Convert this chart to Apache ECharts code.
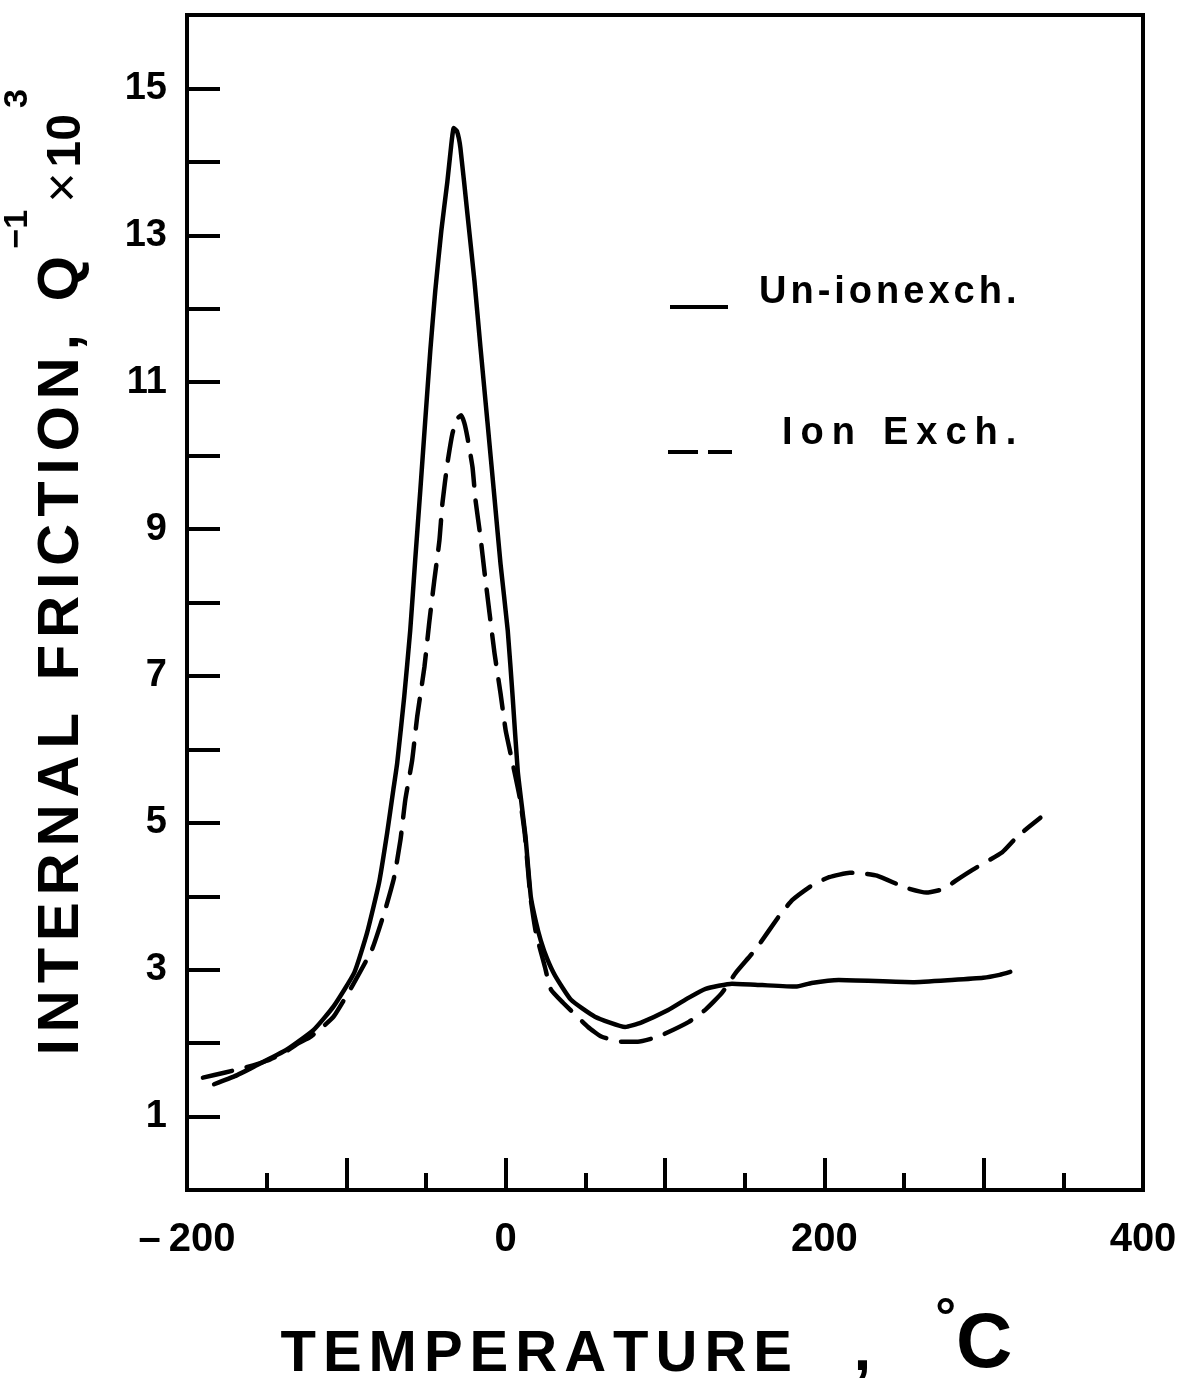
<!DOCTYPE html>
<html>
<head>
<meta charset="utf-8">
<script src="https://cdn.jsdelivr.net/npm/echarts@6/dist/echarts.min.js"></script>
<style>
  html, body { margin: 0; padding: 0; background: #fff; }
  #chart { width: 1186px; height: 1378px; }
</style>
</head>
<body>
<div id="chart"></div>
<script>
// ---- Data ----
const seriesNames = ['Un-ionexch.', 'Ion Exch.'];

const solidT = [-183, -170, -158, -137.5, -120.5, -108, -95, -87, -79.5, -74.4, -70.5, -68.1, -63.7, -59.9, -56.8, -53.6, -50.5, -47.3, -44.2, -40.4, -36.6, -34.2, -32.6, -30.6, -28.4, -24, -19.6, -15.8, -11.4, -7, -3.2, 1.3, 4.4, 7.6, 10.7, 12.5, 15.8, 19, 22, 26, 31, 41, 56, 75, 85, 102, 115, 125.5, 142, 161, 182, 192, 209, 255.5, 280, 299.7, 310, 316.7];
const solidQ = [1.44, 1.55, 1.68, 1.91, 2.18, 2.5, 2.96, 3.5, 4.18, 4.86, 5.45, 5.81, 6.71, 7.62, 8.57, 9.52, 10.47, 11.43, 12.24, 13.06, 13.73, 14.22, 14.46, 14.42, 14.19, 13.29, 12.38, 11.47, 10.45, 9.42, 8.52, 7.62, 6.71, 5.7, 5.13, 4.8, 3.99, 3.65, 3.4, 3.15, 2.92, 2.59, 2.36, 2.22, 2.28, 2.45, 2.62, 2.74, 2.81, 2.79, 2.77, 2.82, 2.86, 2.83, 2.86, 2.89, 2.93, 2.97];

const ionT = [-190, -176, -163, -150, -139, -130, -123, -117, -108, -96.5, -84, -75.7, -70, -66, -63, -58.7, -55.5, -51, -48, -44.8, -41.6, -39.7, -36.6, -33.4, -30.5, -28, -26, -24, -20.8, -18.9, -15.8, -13.2, -10.1, -7, -3.2, 0, 4.4, 8.8, 12, 15.5, 19, 22, 24.6, 28.4, 36, 51.7, 60, 72.6, 83, 96, 115, 125.6, 135.6, 144.5, 157, 171.6, 180, 192.4, 203, 216, 224, 233, 252, 264, 275, 283, 293, 311.7, 321, 335.6];
const ionQ = [1.53, 1.6, 1.67, 1.76, 1.87, 2.0, 2.08, 2.18, 2.36, 2.77, 3.27, 3.81, 4.26, 4.77, 5.31, 5.85, 6.45, 7.12, 7.72, 8.3, 8.84, 9.35, 9.89, 10.3, 10.5, 10.55, 10.45, 10.25, 9.84, 9.39, 8.89, 8.4, 7.85, 7.31, 6.76, 6.26, 5.81, 5.35, 4.85, 4.0, 3.5, 3.25, 3.04, 2.73, 2.55, 2.22, 2.09, 2.02, 2.02, 2.09, 2.29, 2.46, 2.68, 2.96, 3.28, 3.73, 3.95, 4.15, 4.26, 4.32, 4.31, 4.28, 4.11, 4.05, 4.1, 4.22, 4.36, 4.6, 4.81, 5.07];

const xLabelValues = [-200, 0, 200, 400];
const yLabelValues = [1, 3, 5, 7, 9, 11, 13, 15];

// ---- Styling helpers ----
const FONT = "'Liberation Sans', Arial, sans-serif";
function spaced(str, style) {
  return str.split('').map(ch => ch === ' ' ? '{sp| }' : '{' + style + '|' + ch + '}').join('');
}

const chart = echarts.init(document.getElementById('chart'), null, { renderer: 'canvas' });

const yTitle = spaced('INTERNAL FRICTION,', 'c') + '{sp| }{c|Q}{sup|−1}{x|×}{ten|10}{sup|3}';
const xTitle = spaced('TEMPERATURE', 'c') + '{gap| }{cm|,}{gap2| }{deg|°}{big|C}';

const capStyle = { fontSize: 58, fontWeight: 'bold', fontFamily: FONT, fill: '#000', padding: [0, 3.5, 0, 3.5], lineHeight: 90, verticalAlign: 'bottom' };

const option = {
  animation: false,
  backgroundColor: '#fff',
  grid: { left: 187, right: 43, top: 15, bottom: 188, show: true, borderColor: '#000', borderWidth: 4, backgroundColor: 'transparent' },
  xAxis: {
    type: 'value', min: -200, max: 400, interval: 100,
    axisLine: { show: true, onZero: false, lineStyle: { color: '#000', width: 4 } },
    axisTick: { show: true, inside: true, length: 32, lineStyle: { color: '#000', width: 4 } },
    minorTick: { show: true, splitNumber: 2, length: 17, lineStyle: { color: '#000', width: 4 } },
    splitLine: { show: false }, minorSplitLine: { show: false },
    axisLabel: {
      margin: 30, fontSize: 40, fontWeight: 'bold', fontFamily: FONT, color: '#000',
      showMinLabel: true, showMaxLabel: true,
      formatter: v => xLabelValues.includes(v) ? (v < 0 ? '–\u2009' + (-v) : String(v)) : ''
    }
  },
  yAxis: {
    type: 'value', min: 0, max: 16, interval: 1,
    axisLine: { show: true, onZero: false, lineStyle: { color: '#000', width: 4 } },
    axisTick: { show: true, inside: true, length: 33, lineStyle: { color: '#000', width: 4 } },
    splitLine: { show: false },
    axisLabel: {
      margin: 20, fontSize: 38, fontWeight: 'bold', fontFamily: FONT, color: '#000',
      formatter: v => yLabelValues.includes(v) ? String(v) : ''
    }
  },
  series: [
    {
      name: seriesNames[0], type: 'line', symbol: 'none', smooth: 0.15,
      data: solidT.map((t, i) => [t, solidQ[i]]),
      lineStyle: { color: '#000', width: 4.5, cap: 'round', join: 'round' }
    },
    {
      name: seriesNames[1], type: 'line', symbol: 'none', smooth: 0.15,
      data: ionT.map((t, i) => [t, ionQ[i]]),
      lineStyle: { color: '#000', width: 4.5, type: [30, 15], cap: 'round', join: 'round' }
    }
  ],
  graphic: [
    {
      type: 'text', x: 46, y: 572, rotation: Math.PI / 2,
      style: {
        text: yTitle, align: 'center', verticalAlign: 'middle', fill: '#000',
        rich: {
          c: capStyle,
          sp: { fontSize: 58, fontFamily: FONT, lineHeight: 90, verticalAlign: 'bottom', width: 26 },
          sup: { fontSize: 34, fontWeight: 'bold', fontFamily: FONT, fill: '#000', lineHeight: 34, verticalAlign: 'top', padding: [0, 4, 0, 4] },
          x: { fontSize: 52, fontFamily: FONT, fill: '#000', lineHeight: 90, verticalAlign: 'bottom', padding: [0, 3, 0, 3] },
          ten: { fontSize: 48, fontWeight: 'bold', fontFamily: FONT, fill: '#000', lineHeight: 90, verticalAlign: 'bottom', padding: [0, 2, 0, 2] }
        }
      }
    },
    {
      type: 'text', x: 277, y: 1339,
      style: {
        text: xTitle, align: 'left', verticalAlign: 'middle', fill: '#000',
        rich: {
          c: capStyle,
          gap: { fontSize: 58, fontFamily: FONT, lineHeight: 90, verticalAlign: 'bottom', width: 58 },
          gap2: { fontSize: 58, fontFamily: FONT, lineHeight: 90, verticalAlign: 'bottom', width: 64 },
          cm: { fontSize: 64, fontWeight: 'bold', fontFamily: FONT, fill: '#000', lineHeight: 90, verticalAlign: 'bottom' },
          deg: { fontSize: 52, fontWeight: 'bold', fontFamily: FONT, fill: '#000', lineHeight: 50, verticalAlign: 'top' },
          big: { fontSize: 78, fontWeight: 'bold', fontFamily: FONT, fill: '#000', lineHeight: 90, verticalAlign: 'bottom' }
        }
      }
    },
    // legend
    { type: 'line', shape: { x1: 670, y1: 307, x2: 728, y2: 307 }, style: { stroke: '#000', lineWidth: 4 } },
    {
      type: 'text', x: 757, y: 293,
      style: {
        text: spaced(seriesNames[0], 'l'), align: 'left', verticalAlign: 'middle',
        rich: { l: { fontSize: 38, fontWeight: 'bold', fontFamily: FONT, fill: '#000', padding: [0, 2, 0, 2] } }
      }
    },
    { type: 'line', shape: { x1: 668, y1: 452, x2: 732, y2: 452 }, style: { stroke: '#000', lineWidth: 4, lineDash: [30, 10] } },
    {
      type: 'text', x: 778, y: 434,
      style: {
        text: spaced(seriesNames[1], 'l'), align: 'left', verticalAlign: 'middle',
        rich: {
          l: { fontSize: 38, fontWeight: 'bold', fontFamily: FONT, fill: '#000', padding: [0, 4, 0, 4] },
          sp: { fontSize: 38, fontFamily: FONT, width: 20 }
        }
      }
    }
  ]
};
chart.setOption(option);
</script>
</body>
</html>
